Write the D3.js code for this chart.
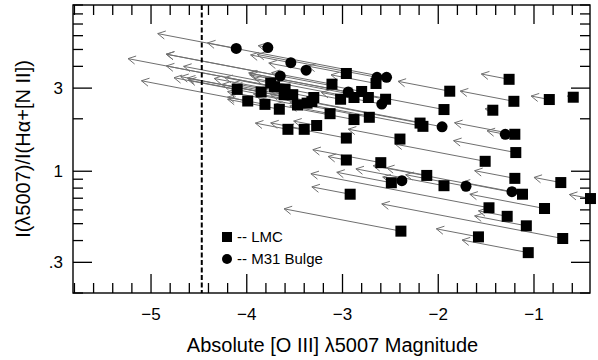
<!DOCTYPE html>
<html>
<head>
<meta charset="utf-8">
<script src="https://cdn.jsdelivr.net/npm/d3@7"></script>
<style>
body { margin: 0; background: #fff; }
svg { font-family: "Liberation Sans", Arial, sans-serif; }
</style>
</head>
<body>
<div id="chart"></div>
<script>
// LMC planetary nebulae: observed magnitude, line ratio, and extinction (arrow length, mag)
var lmcMag = [-4.10, -3.99, -3.85, -3.75, -3.71, -3.60, -3.61, -3.52, -3.81, -3.66,
              -3.47, -3.37, -3.32, -3.30, -3.11, -2.96, -3.02, -2.88, -2.80, -2.73,
              -2.65, -2.55, -3.13, -2.88, -2.72, -3.57, -3.40, -3.27, -2.96, -2.40,
              -2.19, -2.16, -1.88, -1.94, -1.26, -1.21, -1.43, -0.84, -0.59, -1.20,
              -1.19, -1.51, -2.96, -2.60, -2.12, -2.49, -1.94, -1.20, -1.12, -0.72,
              -0.41, -2.92, -1.47, -1.28, -1.08, -0.89, -0.70, -1.58, -1.06, -2.39];
var lmcRatio = [2.95, 2.53, 2.85, 3.21, 3.06, 2.96, 2.75, 2.75, 2.42, 2.27,
                2.40, 2.46, 2.51, 2.65, 3.16, 3.64, 2.59, 2.65, 2.87, 2.65,
                3.19, 2.59, 2.14, 1.98, 2.04, 1.74, 1.74, 1.83, 1.55, 1.53,
                1.89, 1.81, 2.88, 2.26, 3.37, 2.52, 2.24, 2.58, 2.66, 1.63,
                1.28, 1.14, 1.16, 1.12, 0.946, 0.859, 0.826, 0.910, 0.738, 0.861,
                0.697, 0.738, 0.617, 0.551, 0.486, 0.611, 0.411, 0.420, 0.341, 0.453];
var lmcExt = [0.51, 0.21, 0.84, 0.91, 1.13, 0.63, 0.52, 0.63, 1.29, 0.54,
              0.73, 1.39, 0.94, 1.04, 0.63, 0.40, 2.22, 1.04, 2.04, 1.24,
              0.47, 1.42, 0.42, 0.83, 0.83, 0.34, 0.35, 0.24, 0.63, 0.54,
              1.56, 1.77, 0.54, 1.04, 0.29, 0.56, 0.08, 0.19, 0.06, 0.63,
              0.65, 0.94, 0.19, 0.71, 0.42, 0.57, 0.92, 0.42, 1.56, 0.28,
              0.22, 0.40, 1.86, 0.30, 0.54, 0.78, 1.89, 0.44, 0.69, 1.22];

// M31 bulge planetary nebulae
var m31Mag = [-4.11, -3.78, -3.54, -3.38, -3.65, -2.64, -2.54, -2.94, -2.59, -1.96,
              -1.30, -2.38, -1.71, -1.23];
var m31Ratio = [5.07, 5.13, 4.20, 3.80, 3.52, 3.46, 3.46, 2.85, 2.43, 1.80,
                1.63, 0.882, 0.820, 0.763];
var m31Ext = [0.30, 0.10, 0.42, 0.39, 1.19, 1.25, 2.39, 1.04, 0.63, 2.66,
              0.19, 0.20, 0.63, 0.52];

var xTicks = [-5, -4, -3, -2, -1];
var xMinorTicks = [-5.8, -5.6, -5.4, -5.2, -4.8, -4.6, -4.4, -4.2, -3.8, -3.6, -3.4, -3.2,
                   -2.8, -2.6, -2.4, -2.2, -1.8, -1.6, -1.4, -1.2, -0.8, -0.6];
var yTicks = [3, 1, 0.3];
var yTickLabels = ["3", "1", ".3"];
var yMinorTicks = [0.2, 0.4, 0.5, 0.6, 0.7, 0.8, 0.9, 2, 4, 5, 6, 7, 8, 9];
var cutoff = -4.47;
var redden = 0.105; // change in log ratio per magnitude of extinction

var svgWidth = 598, svgHeight = 360;
var margin = {top: 5, right: 8, bottom: 67, left: 73};
var width = svgWidth - margin.left - margin.right;
var height = svgHeight - margin.top - margin.bottom;

var root = d3.select("#chart").append("svg")
    .attr("width", svgWidth)
    .attr("height", svgHeight);
var svg = root.append("g")
    .attr("transform", "translate(" + margin.left + "," + margin.top + ")");

var x = d3.scaleLinear().domain([-5.815, -0.415]).range([0, width]);
var y = d3.scaleLog().domain([0.2, 9]).range([height, 0]);

function build(mag, ratio, ext) {
    return mag.map(function(m, i) {
        return {m: m, r: ratio[i], m0: m - ext[i], r0: ratio[i] * Math.pow(10, redden * ext[i])};
    });
}
var lmc = build(lmcMag, lmcRatio, lmcExt);
var m31 = build(m31Mag, m31Ratio, m31Ext);

// extinction arrows
function arrowPath(d) {
    var x0 = x(d.m), y0 = y(d.r), x1 = x(d.m0), y1 = y(d.r0);
    var dx = x0 - x1, dy = y0 - y1;
    var len = Math.sqrt(dx * dx + dy * dy) || 1;
    var ux = dx / len, uy = dy / len;
    var a = 0.5, h = 8.5, c = Math.cos(a), s = Math.sin(a);
    var ax = x1 + h * (ux * c - uy * s), ay = y1 + h * (ux * s + uy * c);
    var bx = x1 + h * (ux * c + uy * s), by = y1 + h * (-ux * s + uy * c);
    return "M" + x0 + "," + y0 + "L" + x1 + "," + y1 +
        "M" + ax + "," + ay + "L" + x1 + "," + y1 + "L" + bx + "," + by;
}

svg.append("g").selectAll("path")
    .data(lmc.concat(m31))
    .enter().append("path")
    .attr("d", arrowPath)
    .attr("fill", "none")
    .attr("stroke", "#6f6f6f")
    .attr("stroke-width", 1);

// cutoff line
svg.append("line")
    .attr("x1", x(cutoff)).attr("x2", x(cutoff))
    .attr("y1", 0).attr("y2", height)
    .attr("stroke", "#000").attr("stroke-width", 2)
    .attr("stroke-dasharray", "5,2.5");

var sq = 11;
svg.append("g").selectAll("rect")
    .data(lmc)
    .enter().append("rect")
    .attr("x", function(d) { return x(d.m) - sq / 2; })
    .attr("y", function(d) { return y(d.r) - sq / 2; })
    .attr("width", sq).attr("height", sq)
    .attr("fill", "#000");

svg.append("g").selectAll("circle")
    .data(m31)
    .enter().append("circle")
    .attr("cx", function(d) { return x(d.m); })
    .attr("cy", function(d) { return y(d.r); })
    .attr("r", 5.5)
    .attr("fill", "#000");

// inward ticks on all four sides, each one a short line from the frame
var majorLen = 19, minorLen = 10;
var tickData = [];
xTicks.forEach(function(v) { tickData.push({ax: "x", v: v, len: majorLen}); });
xMinorTicks.forEach(function(v) { tickData.push({ax: "x", v: v, len: minorLen}); });
yTicks.forEach(function(v) { tickData.push({ax: "y", v: v, len: majorLen}); });
yMinorTicks.forEach(function(v) { tickData.push({ax: "y", v: v, len: minorLen}); });

var ticks = root.append("g")
    .attr("transform", "translate(" + margin.left + "," + margin.top + ")");
ticks.selectAll("line.bt").data(tickData.filter(function(d) { return d.ax === "x"; }))
    .enter().append("line").attr("class", "bt")
    .attr("x1", function(d) { return x(d.v); }).attr("x2", function(d) { return x(d.v); })
    .attr("y1", height).attr("y2", function(d) { return height - d.len; })
    .style("stroke", "#000").style("stroke-width", "1.3px");
ticks.selectAll("line.tt").data(tickData.filter(function(d) { return d.ax === "x"; }))
    .enter().append("line").attr("class", "tt")
    .attr("x1", function(d) { return x(d.v); }).attr("x2", function(d) { return x(d.v); })
    .attr("y1", 0).attr("y2", function(d) { return d.len; })
    .style("stroke", "#000").style("stroke-width", "1.3px");
ticks.selectAll("line.lt").data(tickData.filter(function(d) { return d.ax === "y"; }))
    .enter().append("line").attr("class", "lt")
    .attr("y1", function(d) { return y(d.v); }).attr("y2", function(d) { return y(d.v); })
    .attr("x1", 0).attr("x2", function(d) { return d.len; })
    .style("stroke", "#000").style("stroke-width", "1.3px");
ticks.selectAll("line.rt").data(tickData.filter(function(d) { return d.ax === "y"; }))
    .enter().append("line").attr("class", "rt")
    .attr("y1", function(d) { return y(d.v); }).attr("y2", function(d) { return y(d.v); })
    .attr("x1", width).attr("x2", function(d) { return width - d.len; })
    .style("stroke", "#000").style("stroke-width", "1.3px");

ticks.append("rect")
    .attr("x", 0).attr("y", 0)
    .attr("width", width).attr("height", height)
    .attr("fill", "none").attr("stroke", "#000").attr("stroke-width", 1.4);

// tick labels
svg.selectAll(".xl").data(xTicks).enter().append("text")
    .attr("x", function(d) { return x(d); })
    .attr("y", height + 27)
    .attr("text-anchor", "middle")
    .attr("font-size", 17)
    .text(function(d) { return "\u2212" + Math.abs(d); });

svg.selectAll(".yl").data(yTicks).enter().append("text")
    .attr("x", -10)
    .attr("y", function(d) { return y(d); })
    .attr("dy", "0.36em")
    .attr("text-anchor", "end")
    .attr("font-size", 17)
    .text(function(d, i) { return yTickLabels[i]; });

svg.append("text")
    .attr("x", width / 2 + 1)
    .attr("y", height + 59)
    .attr("text-anchor", "middle")
    .attr("font-size", 20)
    .text("Absolute [O III] \u03bb5007 Magnitude");

svg.append("text")
    .attr("transform", "translate(" + (-43) + "," + (height / 2) + ") rotate(-90)")
    .attr("text-anchor", "middle")
    .attr("font-size", 20)
    .text("I(\u03bb5007)/I(H\u03b1+[N II])");

// legend
var leg = svg.append("g").attr("transform", "translate(" + (227 - margin.left) + "," + (237 - margin.top) + ")");
leg.append("rect").attr("x", -5).attr("y", -5).attr("width", 10).attr("height", 10).attr("fill", "#000");
leg.append("circle").attr("cx", 0).attr("cy", 22).attr("r", 5).attr("fill", "#000");
leg.append("text").attr("x", 10).attr("y", 0).attr("dy", "0.36em").attr("font-size", 15).text("-- LMC");
leg.append("text").attr("x", 10).attr("y", 22).attr("dy", "0.36em").attr("font-size", 15).text("-- M31 Bulge");
</script>
</body>
</html>
